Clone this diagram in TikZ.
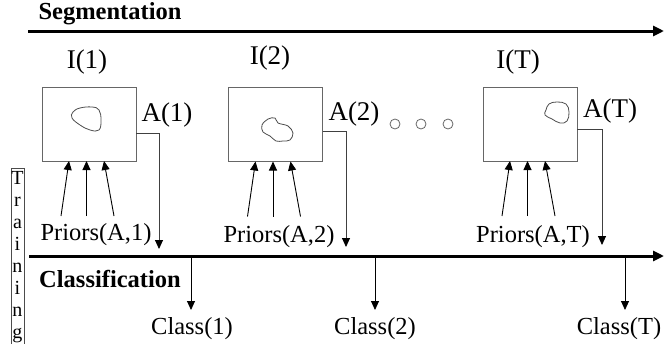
\documentclass[tikz,border=0pt]{standalone}
\usepackage{fontspec}
\setmainfont{Liberation Serif}
\usetikzlibrary{arrows.meta, positioning}

\begin{document}
\begin{tikzpicture}[
    x=1pt, y=-1pt,
    >={Triangle[length=9pt, width=8pt]},
    imgbox/.style={draw=black!60, line width=0.8pt, rectangle, inner sep=0pt, outer sep=0pt, minimum width=94pt, minimum height=74pt},
    lbl/.style={font=\fontsize{27}{32}\selectfont, inner sep=0pt},
    txt/.style={font=\fontsize{24.5}{29}\selectfont, inner sep=0pt},
    head/.style={font=\fontsize{24.5}{29}\selectfont\bfseries, inner sep=0pt},
    axis/.style={line width=3pt, -{Triangle[length=11pt, width=10pt]}},
    outline/.style={draw=black!70, line width=0.8pt},
    prior/.style={->, line width=0.9pt},
    feed/.style={-{Triangle[length=9pt, width=8pt, color=black]}, draw=black!75, line width=0.9pt},
]
    \useasboundingbox (0,0) rectangle (664,343);

    % time lines
    \node[head] (seg) at (110,14) {Segmentation};
    \coordinate (segL) at (28,31);
    \coordinate (segR) at (664,31);
    \draw[axis] (segL) -- (segR);

    \node[head] (cls) at (110,279) {Classification};
    \coordinate (clsL) at (29,256);
    \coordinate (clsR) at (664,256);
    \draw[axis] (clsL) -- (clsR);

    % training strip
    \node[draw=black!70, line width=0.7pt, inner sep=0pt, minimum width=13pt, minimum height=178pt,
          align=center, font=\fontsize{20}{21.9}\selectfont] (train) at (17.5,257)
          {T\\r\\a\\i\\n\\i\\n\\g};

    % images
    \node[imgbox] (img1) at (89,124)   {};
    \node[imgbox] (img2) at (275.5,124.5) {};
    \node[imgbox] (imgT) at (530,124)  {};

    \node[lbl] (I1) at (87,62)  {I(1)};
    \node[lbl] (I2) at (270,58) {I(2)};
    \node[lbl] (IT) at (518,62) {I(T)};

    \node[lbl] (A1) at (167,115) {A(1)};
    \node[lbl] (A2) at (354,114) {A(2)};
    \node[lbl] (AT) at (610,111) {A(T)};

    % regions
    \draw[outline] plot[smooth cycle, tension=0.7] coordinates
        {(73,112) (80,108) (92,107) (99,110) (101,120) (99,130) (90,130) (80,125) (72,118)};
    \draw[outline] plot[smooth cycle, tension=0.6] coordinates
        {(262,125) (268,119) (275,118) (278,123) (288,126) (293,133) (290,140) (283,141) (276,141) (270,136) (263,132)};
    \draw[outline] plot[smooth cycle, tension=0.7] coordinates
        {(546,110) (549,104) (557,102) (566,104) (569,112) (567,121) (560,123) (552,119) (545,115)};

    % dots between frames
    \node[draw=black!60, line width=0.8pt, circle, minimum size=10pt, inner sep=0pt] (d1) at (395,124) {};
    \node[draw=black!60, line width=0.8pt, circle, minimum size=10pt, inner sep=0pt] (d2) at (421,124) {};
    \node[draw=black!60, line width=0.8pt, circle, minimum size=10pt, inner sep=0pt] (d3) at (448,124) {};

    % priors
    \node[txt] (P1) at (96,235)  {Priors(A,1)};
    \node[txt] (P2) at (279,237) {Priors(A,2)};
    \node[txt] (PT) at (533,237) {Priors(A,T)};

    \foreach \b/\p in {img1/P1, img2/P2, imgT/PT}{
        \draw[prior] ([xshift=-28pt, yshift=-55pt]\b.south) -- ([xshift=-20pt]\b.south);
        \draw[prior] ([xshift=-2.5pt, yshift=-55pt]\b.south) -- ([xshift=-2.5pt]\b.south);
        \draw[prior] ([xshift=25pt, yshift=-55pt]\b.south) -- ([xshift=15pt]\b.south);
    }

    % segmentation results
    \coordinate (a1) at (159,249);
    \coordinate (a2) at (346,247);
    \coordinate (aT) at (602,245);
    \draw[feed] ([yshift=-9pt]img1.east) -| (a1);
    \draw[feed] ([yshift=-6.5pt]img2.east) -| (a2);
    \draw[feed] ([yshift=-5pt]imgT.east) -| (aT);

    % classes
    \node[txt] (C1) at (192,329) {Class(1)};
    \node[txt] (C2) at (375,329) {Class(2)};
    \node[txt] (CT) at (619,329) {Class(T)};

    \coordinate (c1) at (191,256);
    \coordinate (c2) at (375,256);
    \coordinate (cT) at (625,256);
    \draw[prior] (c1) -- (191,310);
    \draw[prior] (c2) -- (375,310);
    \draw[prior] (cT) -- (625,310);
\end{tikzpicture}
\end{document}
